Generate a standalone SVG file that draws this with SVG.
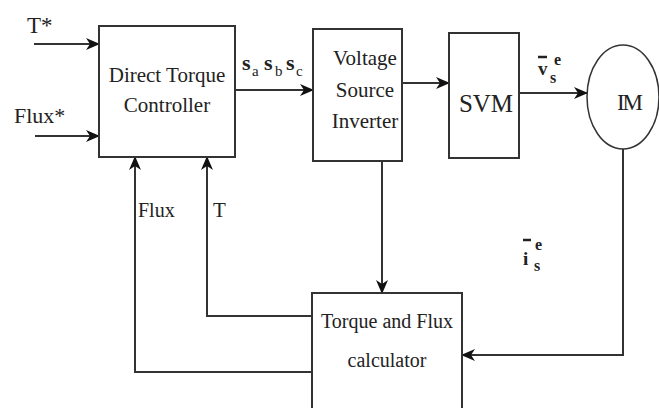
<svg xmlns="http://www.w3.org/2000/svg" width="659" height="408" viewBox="0 0 659 408">
<defs>
<marker id="ah" viewBox="0 0 14 12" refX="13" refY="6" markerWidth="14" markerHeight="12" markerUnits="userSpaceOnUse" orient="auto">
<path d="M0,0 L14,6 L0,12 L4,6 Z" fill="#111"/>
</marker>
<style>
.box{fill:#fff;stroke:#333;stroke-width:2}
.ar{fill:none;stroke:#333;stroke-width:2;marker-end:url(#ah)}
text{font-family:'Liberation Serif','Times New Roman',serif;fill:#222}
.b{font-weight:bold}
</style>
</defs>
<rect width="659" height="408" fill="#fff"/>
<g id="connectors">
<line class="ar" x1="34" y1="44" x2="99" y2="44"/>
<line class="ar" x1="35" y1="136" x2="99" y2="136"/>
<line class="ar" x1="235" y1="90" x2="313" y2="90"/>
<line class="ar" x1="402" y1="83" x2="449" y2="83"/>
<line class="ar" x1="519" y1="93" x2="587" y2="93"/>
<line class="ar" x1="382" y1="161" x2="382" y2="293"/>
<polyline class="ar" points="623,149 623,355 462,355"/>
<polyline class="ar" points="312,372 135,372 135,157"/>
<polyline class="ar" points="312,316 207,316 207,157"/>
</g>
<g id="labels">
<text x="27" y="33" font-size="23">T*</text>
<text x="14" y="123" font-size="22">Flux*</text>
<text x="138" y="217" font-size="20">Flux</text>
<text x="213" y="217" font-size="21">T</text>
<text class="b" x="242" y="70" font-size="22">s</text>
<text x="252" y="76" font-size="15">a</text>
<text class="b" x="264" y="70" font-size="22">s</text>
<text x="275" y="76" font-size="15">b</text>
<text class="b" x="286" y="70" font-size="22">s</text>
<text x="296" y="76" font-size="15">c</text>
<line x1="538" y1="57" x2="547" y2="57" stroke="#222" stroke-width="2.5"/>
<text class="b" x="538" y="75" font-size="19">v</text>
<text class="b" x="550" y="83" font-size="16">s</text>
<text class="b" x="554" y="65" font-size="16">e</text>
<line x1="523" y1="240" x2="531" y2="240" stroke="#222" stroke-width="2.5"/>
<text class="b" x="523" y="265" font-size="19">i</text>
<text class="b" x="534" y="271" font-size="16">s</text>
<text class="b" x="535" y="250" font-size="16">e</text>
</g>
<g id="dtc">
<rect class="box" x="99" y="26" width="136" height="131"/>
<text x="167" y="82" font-size="21" text-anchor="middle">Direct Torque</text>
<text x="167" y="112" font-size="21" text-anchor="middle">Controller</text>
</g>
<g id="vsi">
<rect class="box" x="313" y="29" width="89" height="132"/>
<text x="365" y="65" font-size="21" text-anchor="middle">Voltage</text>
<text x="365" y="97" font-size="21" text-anchor="middle">Source</text>
<text x="365" y="128" font-size="21" text-anchor="middle">Inverter</text>
</g>
<g id="svm">
<rect class="box" x="449" y="33" width="70" height="125"/>
<text x="486" y="112" font-size="25" text-anchor="middle">SVM</text>
</g>
<g id="im">
<ellipse cx="623" cy="97" rx="36" ry="52" fill="#fff" stroke="#333" stroke-width="1.5"/>
<text x="629" y="110" font-size="23" text-anchor="middle" letter-spacing="-2">IM</text>
</g>
<g id="tfc">
<rect class="box" x="312" y="293" width="150" height="120"/>
<text x="387" y="328" font-size="20" text-anchor="middle">Torque and Flux</text>
<text x="387" y="367" font-size="20" text-anchor="middle">calculator</text>
</g>
</svg>
